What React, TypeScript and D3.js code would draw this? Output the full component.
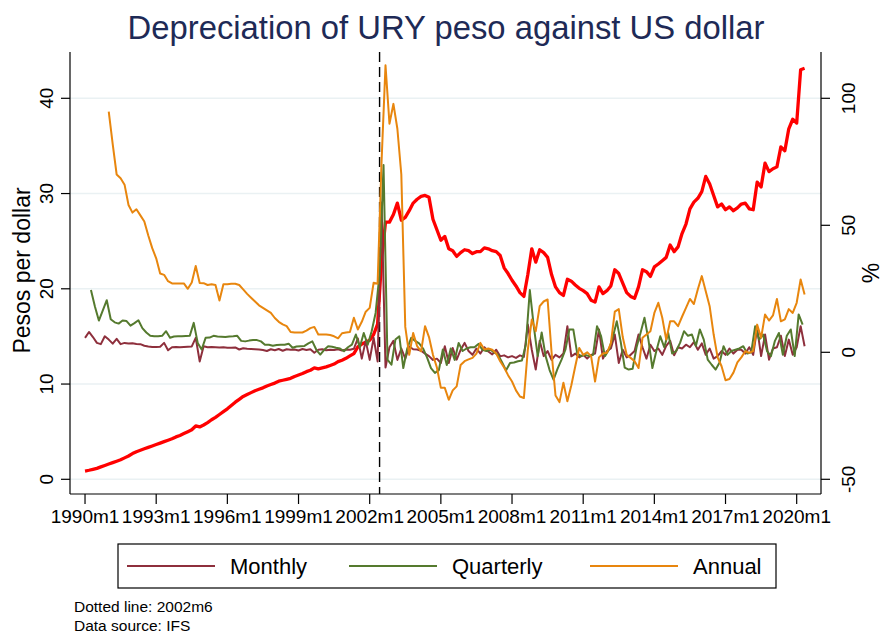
import * as d3 from "d3";

// month index 0 = 1990m1
const fxStart = 0;
const fxStep = 2;
const fxRate = [
  0.87, 0.95, 1.05, 1.15, 1.3, 1.45, 1.6, 1.75, 1.9, 2.05,
  2.25, 2.45, 2.7, 2.9, 3.05, 3.2, 3.35, 3.5, 3.65, 3.8,
  3.95, 4.1, 4.25, 4.45, 4.6, 4.8, 5.0, 5.2, 5.6, 5.5,
  5.7, 5.95, 6.25, 6.5, 6.8, 7.1, 7.4, 7.75, 8.1, 8.4,
  8.7, 8.9, 9.1, 9.3, 9.45, 9.6, 9.8, 9.95, 10.1, 10.3,
  10.4, 10.5, 10.6, 10.8, 10.95, 11.1, 11.3, 11.45, 11.7, 11.6,
  11.7, 11.8, 11.95, 12.1, 12.35, 12.5, 12.7, 12.95, 13.2, 13.9,
  14.2, 14.4, 14.6, 15.2, 16.3, 23.0, 27.0, 27.0, 27.8, 29.0,
  27.2, 27.5, 28.2, 29.0, 29.4, 29.7, 29.8, 29.6, 27.3, 26.2,
  25.1, 25.5, 24.2, 24.0, 23.4, 23.8, 24.1, 24.0, 23.7, 23.9,
  23.9, 24.3, 24.2, 24.0, 23.9, 23.5, 22.2, 21.6, 20.9, 20.3,
  19.6, 19.2, 21.5, 24.2, 22.8, 24.1, 23.8, 23.3, 21.5, 20.2,
  19.6, 19.3, 21.0, 20.8, 20.4, 20.05, 19.8, 19.5, 18.8, 18.6,
  20.2, 19.5, 19.8, 20.3, 22.0, 21.6, 20.6, 19.6, 19.2, 19.0,
  20.2, 22.0, 21.8, 21.3, 22.3, 22.6, 22.95, 23.3, 24.6, 23.9,
  24.4, 25.8, 26.8, 28.4, 29.1, 29.5, 30.2, 31.8, 31.0, 29.8,
  28.6, 28.9, 28.3, 28.6, 28.2, 28.5, 28.9, 29.0, 28.4, 28.3,
  31.2, 30.7, 33.2, 32.3, 32.6, 32.8, 34.9, 34.5, 36.8, 37.8,
  37.4, 43.0, 43.15,
];

const monthlyStart = 0;
const monthlyStep = 2;
const monthlyPct = [
  5.7, 8.0, 6.0, 3.7, 3.2, 6.3, 5.0, 3.4, 5.3, 3.2,
  3.7, 3.5, 3.6, 3.3, 3.2, 2.6, 2.3, 2.1, 2.1, 2.2,
  3.7, 0.8, 2.0, 2.1, 2.0, 2.1, 2.2, 2.3, 5.7, -3.6,
  2.4, 2.0, 2.1, 2.0, 1.9, 2.0, 1.8, 1.8, 1.9, 1.1,
  1.6, 1.4, 1.3, 1.2, 1.1, 0.9, 0.5, 1.2, 0.8, 1.3,
  0.6, 1.2, 1.0, 1.1, 0.7, 1.3, 0.9, 1.2, -0.2, 1.0,
  1.2, 0.8, 1.0, 0.9, 1.2, 0.7, 1.1, 1.0, 1.4, 5.5,
  -2.5, 4.5, -3.0, 5.7, -3.6, 59.0, -6.0, 2.0, 4.5, -3.0,
  1.5, -2.5, 2.3, 1.2, 1.1, 0.6, -0.5, -1.5, -3.0, -2.5,
  -4.2, 2.4, -4.2, 1.7, -2.9, 1.0, 3.7, 0.5, -1.0, 1.5,
  -0.5, 2.0, 0.3, -0.8, 1.0, -1.6, -1.2, -2.0, -1.5, -2.2,
  -1.2, -1.8, 10.9, 1.0, -6.8, 4.5, -1.5, 0.5, -3.0, -1.0,
  -2.0, -0.5, 10.3, -1.6, -0.5, -2.0, -1.0, -2.5, -1.0, -0.5,
  9.0, -2.5, 0.5, 1.5, 7.0, -4.2, 1.0, -2.0, -1.0, 0.5,
  7.0, 2.0, -2.5, 3.0, 0.5, 1.5, -1.0, 2.5, 4.5, -1.2,
  2.0, 1.5, 3.0, 2.0, 4.0, 1.0, 3.5, -1.0, 1.5, -2.5,
  -1.5, 0.5, -1.0, 1.5, -0.5, 1.0, 1.0, -0.5, 2.0, -1.0,
  9.5, -1.5, 7.0, -2.9, 1.5, 2.0, 6.5, -1.5, 5.0, -1.0,
  2.0, 10.3, 2.4,
];

const quarterlyStart = 3;
const quarterlyStep = 2;
const quarterlyPct = [
  24.5, 18.0, 12.5, 16.5, 20.5, 13.0, 11.8, 11.3, 12.5, 12.3,
  10.5, 11.5, 12.6, 9.5, 7.8, 6.5, 6.3, 6.3, 6.5, 8.3,
  5.7, 6.2, 6.3, 6.3, 6.4, 6.5, 11.6, 3.7, 1.1, 5.7,
  5.8, 6.5, 6.2, 6.1, 6.0, 6.2, 6.3, 6.5, 4.5, 4.3,
  4.6, 4.8, 4.8, 4.3, 3.0, 3.0, 2.6, 2.9, 3.0, 3.0,
  3.4, 1.8, 2.3, 2.4, 2.5, 3.5, 4.3, 1.0, -0.9, 1.0,
  2.4, 2.2, 1.8, 1.5, 0.4, 2.0, 3.0, 7.0, 2.0, 7.6,
  3.0, 8.3, 15.5, 31.0, 73.7, -2.9, -4.9, 5.0, 6.3, -6.2,
  1.5, 5.7, 4.5, 3.5, 1.5, -2.0, -6.2, -8.1, -7.0, 1.1,
  -5.0, 1.5, -3.0, 3.7, 0.5, 1.5, 2.0, 2.0, 3.3, 1.0,
  0.5, 1.0, 0.0, -1.0, -4.0, -7.1, -4.2, -4.0, -3.5, -3.2,
  3.0, 24.5, 10.3, -1.5, 7.8, -1.5, -7.0, -10.8, -6.5, -3.0,
  1.0, 9.0, 9.0, -0.5, -1.5, -1.0, -1.5, -1.0, 10.3, 6.5,
  -1.5, 1.0, 6.0, 12.2, 4.0, -6.0, -6.8, -6.5, 2.0, 7.6,
  13.6, 5.0, -6.2, 0.5, 6.3, 2.0, 7.6, -0.5, 0.5, 3.7,
  8.3, 6.5, 7.0, 2.5, 9.0, 5.0, -2.9, -4.9, -6.8, -4.0,
  2.4, -1.0, 0.5, 1.0, 1.5, 2.4, -0.5, 0.0, 10.3, 5.0,
  7.0, 0.5, -1.5, 4.5, 7.6, -1.0, 6.5, 9.0, -1.5, 14.9,
  10.9,
];

const annualStart = 12;
const annualStep = 2;
const annualPct = [
  94.8, 82, 70, 68.5, 66, 58, 55, 56.3, 53.9, 51.5,
  46, 41, 37, 31, 30.5, 28, 27.1, 27.1, 27.1, 27.1,
  25.0, 27.5, 34, 27.3, 27.2, 26.5, 26.8, 26.5, 20.4, 26.8,
  26.8, 27.0, 27.0, 26.5, 24.8, 23.0, 21.5, 20.0, 18.5, 17.5,
  16.5, 15.5, 13.5, 12.0, 11.0, 10.3, 8.0, 7.8, 7.8, 7.8,
  8.5, 9.5, 10.0, 7.0, 7.0, 7.0, 6.8, 6.3, 5.5, 7.5,
  7.8, 8.0, 13.6, 9.0, 12.0, 16.0, 17.5, 27.4, 27.0, 75.0,
  113.0, 90.0, 97.8, 88.0, 70.0, 10.0, -1.0, 7.6, 2.4, 0.4,
  10.3, 6.0, -1.0, -6.0, -14.0, -14.0, -18.7, -15.0, -13.4, -5.0,
  -3.5, -2.8, -2.2, -0.5, 3.7, 1.1, 1.5, 1.0, -0.5, -3.5,
  -6.0, -9.0, -11.5, -15.0, -17.4, -18.0, 1.1, 12.9, 8.3, 18.2,
  20.0, 20.8, 0.0, -17.0, -19.6, -12.0, -19.3, -13.0, -5.5, 1.7,
  -1.0, 0.0, -1.5, -11.5, -2.0, -0.5, -0.2, 3.5, 16.0, 17.0,
  6.0, -1.0, -2.2, -3.5, -6.2, 5.7, 7.0, 8.3, 15.5, 19.5,
  13.6, 5.0, 12.2, 12.2, 10.3, 14.0, 17.5, 21.0, 19.0, 24.8,
  30.0, 24.0, 18.0, 7.0, -2.0, -5.5, -11.0, -10.5, -8.0, -4.0,
  -2.0, 0.4, -0.2, 0.5, 10.9, 5.7, 14.9, 12.5, 14.5, 21.0,
  12.2, 13.0, 17.0, 15.5, 19.5, 28.7, 22.8,
];

const xTickLabels = ["1990m1", "1993m1", "1996m1", "1999m1", "2002m1", "2005m1", "2008m1", "2011m1", "2014m1", "2017m1", "2020m1"];
const leftTicks = [0, 10, 20, 30, 40];
const rightTicks = [-50, 0, 50, 100];
const markerLabel = "2002m6";

const legendItems = [
  { name: "Monthly", color: "#8E2F3C" },
  { name: "Quarterly", color: "#557A2E" },
  { name: "Annual", color: "#E8860E" },
];

type Pt = { m: number; v: number };

const toMonth = (s: string) => {
  const [y, mm] = s.split("m").map(Number);
  return (y - 1990) * 12 + (mm - 1);
};

const pts = (start: number, step: number, vals: number[]): Pt[] =>
  vals.map((v, i) => ({ m: start + i * step, v }));

export default function App() {
  const W = 884;
  const H = 634;
  const left = 70, right = 821, top = 52, bottom = 494;
  const font = "'Liberation Sans', Arial, Helvetica, sans-serif";

  const x = d3.scaleLinear([-7.6, 372.3], [left, right]);
  const yL = d3.scaleLinear([0, 40], [479.3, 98.3]);
  const yR = d3.scaleLinear([-50, 100], [479.3, 98.3]);

  const lineL = d3.line<Pt>().x(d => x(d.m)).y(d => yL(d.v));
  const lineR = d3.line<Pt>().x(d => x(d.m)).y(d => yR(d.v));

  const series = [
    { d: lineR(pts(monthlyStart, monthlyStep, monthlyPct)), color: legendItems[0].color },
    { d: lineR(pts(quarterlyStart, quarterlyStep, quarterlyPct)), color: legendItems[1].color },
    { d: lineR(pts(annualStart, annualStep, annualPct)), color: legendItems[2].color },
  ];

  const xm = x(toMonth(markerLabel));
  const legendX = [127, 349, 590];

  return (
    <svg width={W} height={H} style={{ position: "absolute", left: 0, top: 0, background: "#fff" }} fontFamily={font}>
      <rect x={0} y={0} width={W} height={H} fill="#fff" />
      <text x={446} y={39} textAnchor="middle" fontSize={32.8} fill="#1E2A56">
        Depreciation of URY peso against US dollar
      </text>

      {leftTicks.map(t => (
        <line key={"g" + t} x1={left} x2={right} y1={yL(t)} y2={yL(t)} stroke="#EAF1F3" strokeWidth={1.6} />
      ))}

      <line x1={xm} x2={xm} y1={top} y2={bottom} stroke="#000" strokeWidth={1.4} strokeDasharray="10,5" />

      <path d={lineL(pts(fxStart, fxStep, fxRate)) || ""} fill="none" stroke="#FF0000" strokeWidth={3.3} strokeLinejoin="round" />
      {series.map((s, i) => (
        <path key={i} d={s.d || ""} fill="none" stroke={s.color} strokeWidth={2} strokeLinejoin="round" />
      ))}

      {/* axes */}
      <g stroke="#000" strokeWidth={1.2}>
        <line x1={left} x2={left} y1={top} y2={bottom} />
        <line x1={right} x2={right} y1={top} y2={bottom} />
        <line x1={left} x2={right} y1={bottom} y2={bottom} />
        {leftTicks.map(t => (
          <line key={t} x1={left - 9} x2={left} y1={yL(t)} y2={yL(t)} />
        ))}
        {rightTicks.map(t => (
          <line key={t} x1={right} x2={right + 9} y1={yR(t)} y2={yR(t)} />
        ))}
        {xTickLabels.map(l => (
          <line key={l} x1={x(toMonth(l))} x2={x(toMonth(l))} y1={bottom} y2={bottom + 10} />
        ))}
      </g>

      {leftTicks.map(t => (
        <text key={t} transform={`translate(53,${yL(t)}) rotate(-90)`} textAnchor="middle" fontSize={19}>{t}</text>
      ))}
      {rightTicks.map(t => (
        <text key={t} transform={`translate(855,${yR(t)}) rotate(-90)`} textAnchor="middle" fontSize={19}>{t}</text>
      ))}
      {xTickLabels.map(l => (
        <text key={l} x={x(toMonth(l))} y={523} textAnchor="middle" fontSize={19}>{l}</text>
      ))}

      <text transform={`translate(30,270.5) rotate(-90)`} textAnchor="middle" fontSize={23}>Pesos per dollar</text>
      <text transform={`translate(879,273) rotate(-90)`} textAnchor="middle" fontSize={23}>%</text>

      {/* legend */}
      <rect x={118} y={544} width={658} height={44} fill="#fff" stroke="#000" strokeWidth={1.2} />
      {legendItems.map((it, i) => (
        <g key={it.name}>
          <line x1={legendX[i]} x2={legendX[i] + 88} y1={566} y2={566} stroke={it.color} strokeWidth={2.2} />
          <text x={legendX[i] + 103} y={574} fontSize={22}>{it.name}</text>
        </g>
      ))}

      <text x={74} y={612} fontSize={15.5}>Dotted line: {markerLabel}</text>
      <text x={74} y={631} fontSize={15.5}>Data source: IFS</text>
    </svg>
  );
}
